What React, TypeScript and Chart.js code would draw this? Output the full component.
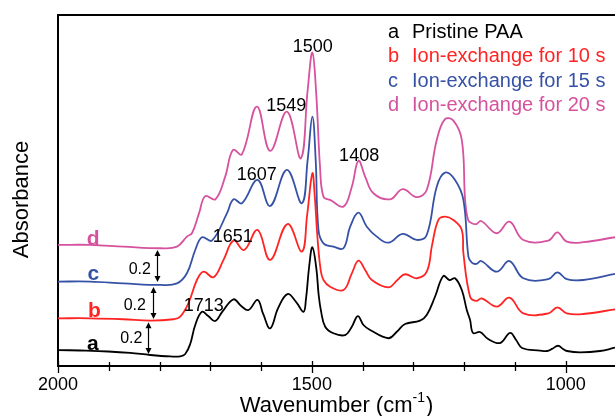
import React, { useEffect, useRef } from 'react';
import { Chart, registerables } from 'chart.js';

Chart.register(...registerables);

const FONT = "'Liberation Sans', Arial, Helvetica, sans-serif";

// Series meta
const seriesLetters = ['a', 'b', 'c', 'd'];
const seriesNames = ['Pristine PAA', 'Ion-exchange for 10 s', 'Ion-exchange for 15 s', 'Ion-exchange for 20 s'];
const seriesColors = ['#000000', '#ff2424', '#3652a6', '#d6529e'];

// a: Pristine PAA
const waveA = [2000, 1956, 1901, 1857.7, 1818.3, 1778.9, 1759.3, 1749.4, 1739.6, 1729.7, 1716.5, 1704.1, 1690.4, 1676.6, 1654.3, 1639.2, 1624.8, 1607.1, 1595.9, 1582.1, 1566.3, 1548, 1530.9, 1516.5, 1511.8, 1505, 1499, 1491.3, 1486.6, 1481.7, 1473.8, 1457.5, 1434.5, 1421.3, 1409.5, 1398.4, 1385.3, 1349.3, 1332.7, 1316.5, 1287, 1273.8, 1257.5, 1241.1, 1229.3, 1218, 1204.7, 1194.9, 1188.4, 1182.5, 1168.7, 1152.9, 1129.3, 1109.6, 1097.8, 1086, 1050.6, 1036.8, 1027, 1015.2, 1005.4, 997.4, 971.8, 932.5, 903];
const absA = [0.100, 0.097, 0.091, 0.082, 0.069, 0.060, 0.060, 0.075, 0.138, 0.257, 0.340, 0.313, 0.282, 0.339, 0.418, 0.376, 0.351, 0.414, 0.326, 0.236, 0.364, 0.451, 0.401, 0.340, 0.414, 0.633, 0.744, 0.614, 0.445, 0.339, 0.246, 0.205, 0.194, 0.246, 0.313, 0.257, 0.226, 0.174, 0.215, 0.263, 0.284, 0.320, 0.434, 0.564, 0.539, 0.550, 0.476, 0.351, 0.288, 0.207, 0.213, 0.169, 0.144, 0.207, 0.163, 0.113, 0.097, 0.094, 0.107, 0.127, 0.107, 0.094, 0.086, 0.094, 0.115];

// b: Ion-exchange for 10 s
const waveB = [2000, 1936.4, 1871.5, 1818.3, 1772.4, 1759.3, 1742.9, 1726.4, 1713.4, 1693.7, 1674, 1654.3, 1633.3, 1607.1, 1582.1, 1548, 1519.7, 1509.3, 1499, 1494.5, 1488.6, 1482.7, 1477.2, 1464, 1437.8, 1421.3, 1408.3, 1395.1, 1381.9, 1349.3, 1331.5, 1316.5, 1293.5, 1273.8, 1263.2, 1251, 1237.8, 1221.3, 1204.7, 1201.6, 1188.4, 1176.5, 1165.4, 1135.8, 1110.9, 1083.5, 1034.3, 1016.5, 998, 965.6, 903];
const absB = [0.299, 0.299, 0.293, 0.284, 0.293, 0.309, 0.395, 0.539, 0.591, 0.556, 0.665, 0.786, 0.727, 0.853, 0.665, 0.890, 0.717, 0.947, 1.208, 1.072, 0.790, 0.602, 0.539, 0.497, 0.476, 0.581, 0.660, 0.602, 0.539, 0.493, 0.539, 0.575, 0.550, 0.591, 0.759, 0.915, 0.936, 0.915, 0.853, 0.707, 0.434, 0.408, 0.424, 0.372, 0.428, 0.330, 0.330, 0.368, 0.330, 0.326, 0.355];

// c: Ion-exchange for 15 s
const waveC = [2000, 1936.4, 1870.9, 1798.6, 1765.7, 1746.1, 1729.7, 1716.5, 1696.9, 1667.3, 1654.3, 1637.8, 1607.1, 1582.1, 1549.2, 1519.7, 1508.3, 1499, 1492.5, 1487, 1477.2, 1457.5, 1437.8, 1424.6, 1408.3, 1391.8, 1372.1, 1349.3, 1321.1, 1293.5, 1273.8, 1254.1, 1237.8, 1218, 1201.6, 1191.7, 1185, 1176, 1166.7, 1135.8, 1110.9, 1083.5, 1034.3, 1016.5, 998, 965.3, 903];
const absC = [0.529, 0.529, 0.518, 0.508, 0.518, 0.581, 0.727, 0.807, 0.786, 0.957, 1.045, 1.020, 1.166, 1.003, 1.229, 1.020, 1.292, 1.563, 1.292, 0.853, 0.769, 0.748, 0.738, 0.873, 0.961, 0.873, 0.811, 0.773, 0.828, 0.790, 0.821, 1.124, 1.212, 1.166, 1.041, 0.685, 0.648, 0.640, 0.658, 0.591, 0.658, 0.550, 0.544, 0.587, 0.544, 0.539, 0.577];

// d: Ion-exchange for 20 s
const waveD = [2000, 1936.4, 1870.9, 1798.6, 1765.7, 1746.1, 1736.2, 1722, 1710, 1690, 1670.7, 1655.5, 1637.8, 1608.3, 1582.1, 1549.2, 1521.7, 1508.3, 1499, 1491.3, 1484, 1477.2, 1464, 1437.8, 1421.3, 1408.3, 1395.1, 1378.8, 1345.9, 1321.1, 1293.5, 1273.8, 1254.1, 1237.8, 1221.3, 1204.7, 1198.2, 1192.3, 1185, 1176, 1166.7, 1135.8, 1110.9, 1083.5, 1034.3, 1016.5, 998, 965.3, 903];
const absD = [0.759, 0.759, 0.748, 0.738, 0.748, 0.811, 0.832, 0.960, 1.065, 1.045, 1.187, 1.354, 1.327, 1.626, 1.348, 1.594, 1.302, 1.730, 1.964, 1.699, 1.250, 1.061, 1.041, 0.999, 1.124, 1.287, 1.187, 1.083, 1.045, 1.108, 1.058, 1.103, 1.417, 1.547, 1.538, 1.417, 1.041, 0.915, 0.895, 0.890, 0.909, 0.832, 0.905, 0.790, 0.786, 0.838, 0.779, 0.776, 0.807];

const seriesWaves = [waveA, waveB, waveC, waveD];
const seriesAbs = [absA, absB, absC, absD];

// Axes
const xMin = 903;
const xMax = 2000;
const yMin = 0;
const yMax = 2.2;
const xTickValues = [2000, 1500, 1000];
const xTickLabels = ['2000', '1500', '1000'];
const minorTickValues = [1900, 1800, 1700, 1600, 1400, 1300, 1200, 1100];
const xTitle = 'Wavenumber (cm';
const xTitleSup = '-1';
const yTitle = 'Absorbance';

// Peak annotations
const peakLabels = ['1713', '1651', '1607', '1549', '1500', '1408'];
const peakLabelWave = [1713, 1655.9, 1608.7, 1550.6, 1498.4, 1406.9];
const peakLabelAbs = [0.345, 0.777, 1.166, 1.599, 1.969, 1.285];

// Curve letter labels
const curveLabelWave = [1931.5, 1928.5, 1930.5, 1930.5];
const curveLabelAbs = [0.100, 0.307, 0.539, 0.759];

// Offset arrows
const arrowWave = [1823.6, 1813.8, 1805.1];
const arrowFrom = [0.075, 0.295, 0.527];
const arrowStep = 0.2;
const arrowText = '0.2';
const arrowLabelWave = [1855.7, 1848.8, 1839];
const arrowLabelAbs = [0.144, 0.351, 0.577];

const decorPlugin = {
  id: 'decor',
  afterDraw(chart: any) {
    const { ctx, chartArea, scales } = chart;
    const xs = scales.x;
    const ys = scales.y;
    ctx.save();
    ctx.strokeStyle = '#000';
    ctx.fillStyle = '#000';

    // top frame line
    ctx.lineWidth = 2;
    ctx.beginPath();
    ctx.moveTo(chartArea.left - 1, chartArea.top);
    ctx.lineTo(chartArea.right, chartArea.top);
    ctx.stroke();

    // tick marks
    ctx.lineWidth = 1.3;
    const b = chartArea.bottom;
    minorTickValues.forEach((v) => {
      const px = Math.round(xs.getPixelForValue(v)) + 0.5;
      ctx.beginPath();
      ctx.moveTo(px, b - 4);
      ctx.lineTo(px, b + 5);
      ctx.stroke();
    });
    xTickValues.forEach((v) => {
      const px = Math.round(xs.getPixelForValue(v)) + 0.5;
      ctx.beginPath();
      ctx.moveTo(px, b - 5);
      ctx.lineTo(px, b + 7);
      ctx.stroke();
    });

    // tick labels
    ctx.font = `18px ${FONT}`;
    ctx.textAlign = 'center';
    ctx.textBaseline = 'alphabetic';
    xTickValues.forEach((v, i) => {
      ctx.fillText(xTickLabels[i], xs.getPixelForValue(v), b + 24);
    });

    // y title
    ctx.save();
    ctx.font = `22px ${FONT}`;
    ctx.textAlign = 'center';
    ctx.textBaseline = 'middle';
    ctx.translate(22, (chartArea.top + chartArea.bottom) / 2 + 9);
    ctx.rotate(-Math.PI / 2);
    ctx.fillText(yTitle, 0, 0);
    ctx.restore();

    // x title with superscript
    ctx.textBaseline = 'alphabetic';
    ctx.textAlign = 'left';
    ctx.font = `22px ${FONT}`;
    const w1 = ctx.measureText(xTitle).width;
    const w3 = ctx.measureText(')').width;
    ctx.font = `14px ${FONT}`;
    const w2 = ctx.measureText(xTitleSup).width;
    const total = w1 + w2 + w3 + 1;
    const cx = (chartArea.left + chartArea.right) / 2;
    let sx = cx - total / 2;
    const by = 412;
    ctx.font = `22px ${FONT}`;
    ctx.fillText(xTitle, sx, by);
    sx += w1;
    ctx.font = `14px ${FONT}`;
    ctx.fillText(xTitleSup, sx, by - 10);
    sx += w2 + 1;
    ctx.font = `22px ${FONT}`;
    ctx.fillText(')', sx, by);

    // legend
    ctx.font = `20px ${FONT}`;
    const letterX = chartArea.right - 227;
    const textX = chartArea.right - 203;
    seriesNames.forEach((name, i) => {
      const y = chartArea.top + 23 + i * 24.3;
      ctx.fillStyle = seriesColors[i];
      ctx.fillText(seriesLetters[i], letterX, y);
      ctx.fillText(name, textX, y);
    });

    // peak labels
    ctx.fillStyle = '#000';
    ctx.font = `18px ${FONT}`;
    ctx.textAlign = 'center';
    peakLabels.forEach((t, i) => {
      ctx.fillText(t, xs.getPixelForValue(peakLabelWave[i]), ys.getPixelForValue(peakLabelAbs[i]));
    });

    // curve letters
    ctx.font = `bold 21px ${FONT}`;
    seriesLetters.forEach((t, i) => {
      ctx.fillStyle = seriesColors[i];
      ctx.fillText(t, xs.getPixelForValue(curveLabelWave[i]), ys.getPixelForValue(curveLabelAbs[i]));
    });

    // arrows
    ctx.fillStyle = '#000';
    ctx.strokeStyle = '#000';
    ctx.lineWidth = 1.2;
    arrowWave.forEach((w, i) => {
      const px = Math.round(xs.getPixelForValue(w)) + 0.5;
      const y1 = ys.getPixelForValue(arrowFrom[i]);
      const y2 = ys.getPixelForValue(arrowFrom[i] + arrowStep);
      ctx.beginPath();
      ctx.moveTo(px, y1 - 4);
      ctx.lineTo(px, y2 + 4);
      ctx.stroke();
      ctx.beginPath();
      ctx.moveTo(px, y1);
      ctx.lineTo(px - 3, y1 - 6);
      ctx.lineTo(px + 3, y1 - 6);
      ctx.closePath();
      ctx.fill();
      ctx.beginPath();
      ctx.moveTo(px, y2);
      ctx.lineTo(px - 3, y2 + 6);
      ctx.lineTo(px + 3, y2 + 6);
      ctx.closePath();
      ctx.fill();
    });
    ctx.font = `16px ${FONT}`;
    ctx.textAlign = 'center';
    arrowLabelWave.forEach((w, i) => {
      ctx.fillText(arrowText, xs.getPixelForValue(w), ys.getPixelForValue(arrowLabelAbs[i]));
    });

    ctx.restore();
  },
};

export default function App() {
  const ref = useRef<HTMLCanvasElement | null>(null);

  useEffect(() => {
    if (!ref.current) return;
    const datasets = seriesNames.map((name, i) => ({
      label: name,
      data: seriesWaves[i].map((w, j) => ({ x: w, y: seriesAbs[i][j] })),
      borderColor: seriesColors[i],
      backgroundColor: seriesColors[i],
      borderWidth: 1.8,
      pointRadius: 0,
      fill: false,
      tension: 0.4,
    }));
    const chart = new Chart(ref.current, {
      type: 'line',
      data: { datasets },
      options: {
        animation: false,
        responsive: true,
        maintainAspectRatio: false,
        layout: { padding: { top: 15, right: 0, left: 0, bottom: 0 } },
        plugins: { legend: { display: false }, tooltip: { enabled: false } },
        scales: {
          x: {
            type: 'linear',
            reverse: true,
            min: xMin,
            max: xMax,
            grid: { display: false },
            border: { display: true, color: '#000', width: 2 },
            ticks: { display: false },
            afterFit: (scale: any) => {
              scale.height = 50;
            },
          },
          y: {
            type: 'linear',
            min: yMin,
            max: yMax,
            grid: { display: false },
            border: { display: true, color: '#000', width: 2 },
            ticks: { display: false },
            afterFit: (scale: any) => {
              scale.width = 58;
            },
          },
        },
      },
      plugins: [decorPlugin],
    });
    return () => chart.destroy();
  }, []);

  return (
    <div style={{ position: 'absolute', left: 0, top: 0, width: 615, height: 416, background: '#fff' }}>
      <canvas ref={ref} />
    </div>
  );
}
